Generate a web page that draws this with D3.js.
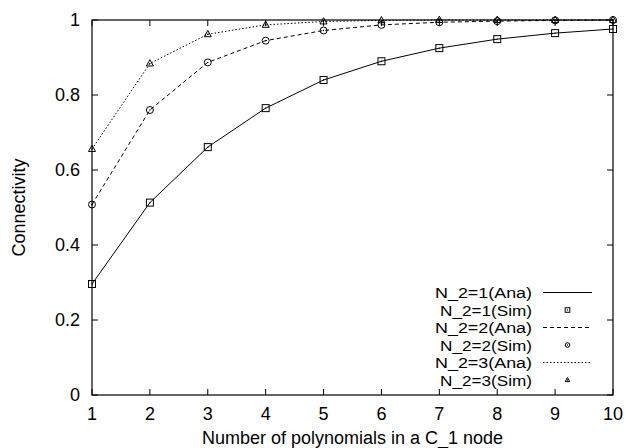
<!DOCTYPE html>
<meta charset="utf-8">
<script src="https://cdn.jsdelivr.net/npm/d3@7"></script>
<style>
body { margin: 0; background: #fff; }
text { font-family: "Liberation Sans", Arial, sans-serif; fill: #000; }
</style>
<body>
<script>
var nodes = [1, 2, 3, 4, 5, 6, 7, 8, 9, 10]
var xTicks = [1, 2, 3, 4, 5, 6, 7, 8, 9, 10]
var yTicks = [0, 0.2, 0.4, 0.6, 0.8, 1]

var ana1 = [0.296, 0.513, 0.661, 0.765, 0.840, 0.890, 0.925, 0.949, 0.965, 0.976]
var sim1 = [0.296, 0.513, 0.661, 0.765, 0.840, 0.890, 0.925, 0.949, 0.965, 0.976]
var ana2 = [0.508, 0.760, 0.887, 0.945, 0.972, 0.987, 0.994, 0.997, 0.999, 1.0]
var sim2 = [0.508, 0.760, 0.887, 0.945, 0.972, 0.987, 0.994, 0.997, 0.999, 1.0]
var ana3 = [0.656, 0.884, 0.962, 0.987, 0.996, 0.999, 1.0, 1.0, 1.0, 1.0]
var sim3 = [0.656, 0.884, 0.962, 0.987, 0.996, 0.999, 1.0, 1.0, 1.0, 1.0]

var legendNames = ["N_2=1(Ana)", "N_2=1(Sim)", "N_2=2(Ana)", "N_2=2(Sim)", "N_2=3(Ana)", "N_2=3(Sim)"]

var W = 626, H = 448
var m = {left: 92, right: 13, top: 20, bottom: 53}

var svg = d3.select("body").append("svg").attr("width", W).attr("height", H)

var x = d3.scaleLinear().domain([1, 10]).range([m.left, W - m.right])
var y = d3.scaleLinear().domain([0, 1]).range([H - m.bottom, m.top])

var fs = 18
var tl = 6

// ticks (mirrored like gnuplot)
var g = svg.append("g")
xTicks.forEach(function(t){
    g.append("line").attr("x1", x(t)).attr("x2", x(t)).attr("y1", y(0)).attr("y2", y(0) - tl).attr("stroke", "#000")
    g.append("line").attr("x1", x(t)).attr("x2", x(t)).attr("y1", y(1)).attr("y2", y(1) + tl).attr("stroke", "#000")
    g.append("text").attr("x", x(t)).attr("y", y(0) + 25).attr("text-anchor", "middle").style("font-size", fs + "px").text(t)
})
yTicks.forEach(function(t){
    g.append("line").attr("x1", x(1)).attr("x2", x(1) + tl).attr("y1", y(t)).attr("y2", y(t)).attr("stroke", "#000")
    g.append("line").attr("x1", x(10)).attr("x2", x(10) - tl).attr("y1", y(t)).attr("y2", y(t)).attr("stroke", "#000")
    g.append("text").attr("x", x(1) - 12).attr("y", y(t) + 6).attr("text-anchor", "end").style("font-size", fs + "px").text(t)
})

svg.append("rect").attr("x", x(1)).attr("y", y(1)).attr("width", x(10) - x(1)).attr("height", y(0) - y(1))
    .attr("fill", "none").attr("stroke", "#000").attr("stroke-width", 1.2)

svg.append("text").attr("x", (x(1) + x(10)) / 2).attr("y", H - 4).attr("text-anchor", "middle").style("font-size", fs + "px")
    .text("Number of polynomials in a C_1 node")
svg.append("text").attr("transform", "translate(25," + ((y(0) + y(1)) / 2) + ") rotate(-90)").attr("text-anchor", "middle").style("font-size", fs + "px")
    .text("Connectivity")

var dashes = [null, "4,3", "1.5,2"]
var line = d3.line().x(function(d, i){ return x(nodes[i]) }).y(function(d){ return y(d) })

function marker(sel, kind, cx, cy, s) {
    if (kind == 0) {
        sel.append("rect").attr("x", cx - s).attr("y", cy - s).attr("width", 2 * s).attr("height", 2 * s).attr("fill", "none").attr("stroke", "#000")
    } else if (kind == 1) {
        sel.append("circle").attr("cx", cx).attr("cy", cy).attr("r", s).attr("fill", "none").attr("stroke", "#000")
    } else {
        sel.append("path").attr("d", "M" + cx + "," + (cy - s * 1.1) + "L" + (cx + s) + "," + (cy + s * 0.7) + "L" + (cx - s) + "," + (cy + s * 0.7) + "Z")
            .attr("fill", "none").attr("stroke", "#000")
    }
    sel.append("circle").attr("cx", cx).attr("cy", cy).attr("r", 0.7).attr("fill", "#000")
}

var anas = [ana1, ana2, ana3]
var sims = [sim1, sim2, sim3]
anas.forEach(function(a, k){
    svg.append("path").attr("d", line(a)).attr("fill", "none").attr("stroke", "#000").attr("stroke-width", 1)
        .attr("stroke-dasharray", dashes[k])
})
sims.forEach(function(s, k){
    var mg = svg.append("g")
    s.forEach(function(v, i){ marker(mg, k, x(nodes[i]), y(v), 3.5) })
})

// legend (gnuplot font looks wider than tall, so stretch it a bit)
var lg = svg.append("g")
legendNames.forEach(function(name, i){
    var ly = 292.5 + i * 17.5
    lg.append("text").attr("x", 532).attr("y", ly + 5.5).attr("text-anchor", "end").style("font-size", "15.5px")
        .attr("textLength", name.indexOf("Ana") > 0 ? 97 : 92).attr("lengthAdjust", "spacingAndGlyphs").text(name)
    var k = Math.floor(i / 2)
    if (i % 2 == 0) {
        lg.append("line").attr("x1", 543).attr("x2", 592).attr("y1", ly).attr("y2", ly).attr("stroke", "#000").attr("stroke-dasharray", dashes[k])
    } else {
        marker(lg, k, 567.5, ly, 2.3)
    }
})
</script>
</body>
